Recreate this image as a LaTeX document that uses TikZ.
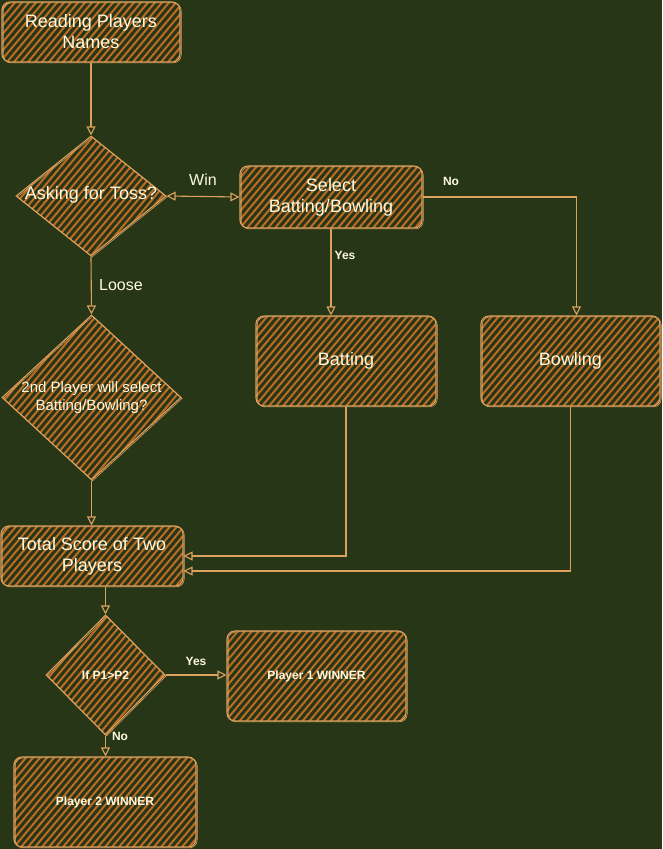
\documentclass[tikz,border=0pt]{standalone}
\usepackage{fontspec}
\setmainfont{Liberation Sans}
\usetikzlibrary{shapes.geometric,arrows.meta,calc}

\definecolor{bg}{HTML}{283618}
\definecolor{stroke}{HTML}{DDA15E}
\definecolor{hatch}{HTML}{BC6C25}
\definecolor{ink}{HTML}{FEFAE0}

\begin{document}
\begin{tikzpicture}[x=1pt,y=-1pt,
  hatchline/.style={draw=hatch, line width=2pt},
  sketchy/.style={draw=stroke, line width=1.1pt, fill=bg,
    path picture={\foreach \k in {-38,...,18}{\draw[hatchline]
        ([xshift=\k*7pt]path picture bounding box.south) -- ++(168pt,200pt);}},
    postaction={draw=stroke, line width=0.6pt,
      transform canvas={shift={(1.2pt,-0.9pt)}}}},
  box/.style={sketchy, rounded corners=8pt, align=center, text=ink, inner sep=2pt},
  dia/.style={sketchy, diamond, inner sep=0pt},
  big/.style={font=\fontsize{18}{21}\selectfont},
  mid/.style={font=\fontsize{15}{17.5}\selectfont},
  small/.style={font=\bfseries\fontsize{12}{14}\selectfont},
  txt/.style={text=ink, align=center, inner sep=0pt},
  edgelab/.style={text=ink, inner sep=0pt, font=\fontsize{16}{18}\selectfont},
  smalllab/.style={text=ink, inner sep=0pt, font=\bfseries\fontsize{12}{14}\selectfont},
  conn/.style={draw=stroke, line width=1.1pt, -{Triangle[open, length=9pt, width=9pt]}},
  both/.style={draw=stroke, line width=1.1pt,
    {Triangle[open, length=9pt, width=9pt]}-{Triangle[open, length=9pt, width=9pt]}}
]
\useasboundingbox (0,0) rectangle (662,849);
\fill[bg] (0,0) rectangle (662,849);

% boxes
\node[box, big, minimum width=178pt, minimum height=60pt] (read) at (91,32) {Reading Players\\Names};
\node[box, big, minimum width=182pt, minimum height=62pt] (sel) at (331,197) {Select\\Batting/Bowling};
\node[box, big, minimum width=180pt, minimum height=90pt] (bat) at (346,361) {\raisebox{-3pt}{Batting}};
\node[box, big, minimum width=179pt, minimum height=90pt] (bow) at (570.5,361) {\raisebox{-3pt}{Bowling}};
\node[box, big, minimum width=182pt, minimum height=60pt] (total) at (92,556) {Total Score of Two\\Players};
\node[box, small, minimum width=179pt, minimum height=90pt] (p1) at (316.5,676) {Player 1 WINNER};
\node[box, small, minimum width=182pt, minimum height=90pt] (p2) at (105,802) {Player 2 WINNER};

% decisions
\node[dia, minimum width=150pt, minimum height=120pt] (toss) at (91,196) {};
\node[txt, big] (tosst) at (91,195) {Asking for Toss?};
\node[dia, minimum width=179pt, minimum height=165pt] (second) at (91.5,397.5) {};
\node[txt, mid] (secondt) at (second) {2nd Player will select\\Batting/Bowling?};
\node[dia, minimum width=119pt, minimum height=120pt] (cmp) at (105.5,675) {};
\node[txt, small] (cmpt) at (cmp) {If P1>P2};

% connectors
\draw[conn] (read.south) -- (toss.north);
\draw[both] (toss.east) -- (sel.west);
\draw[conn] (sel.east) -| ($(bow.north)+(6,0)$);
\draw[conn] (sel.south) -- (sel.south |- bat.north);
\draw[conn] (toss.south) -- (second.north);
\draw[conn] (second.south) -- (second.south |- total.north);
\draw[conn] (bat.south) |- (total.east);
\draw[conn] (bow.south) |- ($(total.east)+(0,15)$);
\draw[conn] (total.south -| cmp.north) -- (cmp.north);
\draw[conn] (cmp.east) -- (cmp.east -| p1.west);
\draw[conn] (cmp.south) -- (cmp.south |- p2.north);

% labels
\node[edgelab] (lwin) at (203,180) {Win};
\node[edgelab] (lloose) at (121,285) {Loose};
\node[smalllab] (lno1) at (451,181) {No};
\node[smalllab] (lyes1) at (345,255) {Yes};
\node[smalllab] (lyes2) at (196,661) {Yes};
\node[smalllab] (lno2) at (120,736) {No};
\end{tikzpicture}
\end{document}
